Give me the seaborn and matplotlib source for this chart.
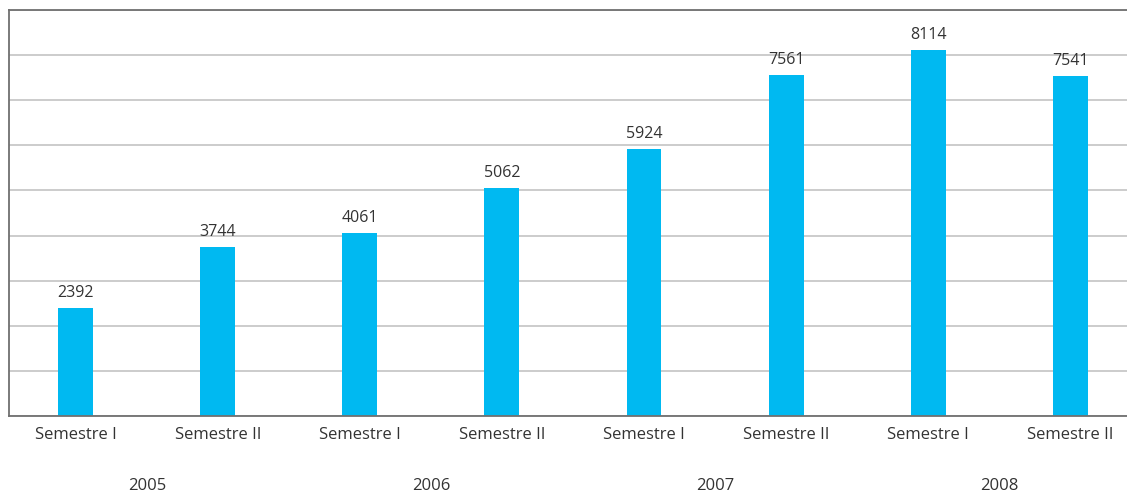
import matplotlib
matplotlib.use("Agg")
import matplotlib.pyplot as plt
import matplotlib.transforms as mtransforms
import seaborn as sns
import pandas as pd

years = ["2005", "2006", "2007", "2008"]
semesters = ["Semestre I", "Semestre II"]
values = [2392, 3744, 4061, 5062, 5924, 7561, 8114, 7541]

periods = [f"{y} {s}" for y in years for s in semesters]
tick_labels = [s for y in years for s in semesters]
df = pd.DataFrame({"period": periods, "value": values})

sns.set_theme(style="white")
plt.rcParams['font.family'] = ['Open Sans', 'DejaVu Sans']

fig = plt.figure(figsize=(11.27, 4.97), dpi=100)
ax = fig.add_axes([9/1127, 1 - 416/497, 1 - 9/1127, (416 - 10)/497])

sns.barplot(data=df, x="period", y="value", color="#00B9F1", width=0.246,
            saturation=1, linewidth=0, edgecolor="none", ax=ax)

ax.set_ylim(0, 9000)
ax.set_xlim(-0.47, 7.40)
ax.set_yticks(range(0, 9001, 1000))
ax.set_yticklabels([])
ax.tick_params(axis="y", length=0)
ax.yaxis.grid(True, color="#c4c4c4", linewidth=1.2)
ax.set_axisbelow(True)
ax.set_xticks(range(len(tick_labels)))
ax.set_xticklabels(tick_labels, fontsize=12, color="#333333")
ax.tick_params(axis="x", length=0, pad=8)
ax.set_xlabel("")
ax.set_ylabel("")

for side in ["left", "bottom", "top"]:
    ax.spines[side].set_color("#707070")
    ax.spines[side].set_linewidth(1.3)
ax.spines["right"].set_visible(False)

for i, v in enumerate(values):
    ax.annotate(str(v), (i, v), xytext=(0, 5), textcoords="offset points",
                ha="center", va="bottom", fontsize=11.5, color="#333333")

trans = mtransforms.blended_transform_factory(ax.transData, fig.transFigure)
for k, y in enumerate(years):
    ax.text(2 * k + 0.5, 1 - 486/497, y, transform=trans, ha="center", va="center",
            fontsize=12, color="#333333")

fig.savefig("out.png", dpi=100)
